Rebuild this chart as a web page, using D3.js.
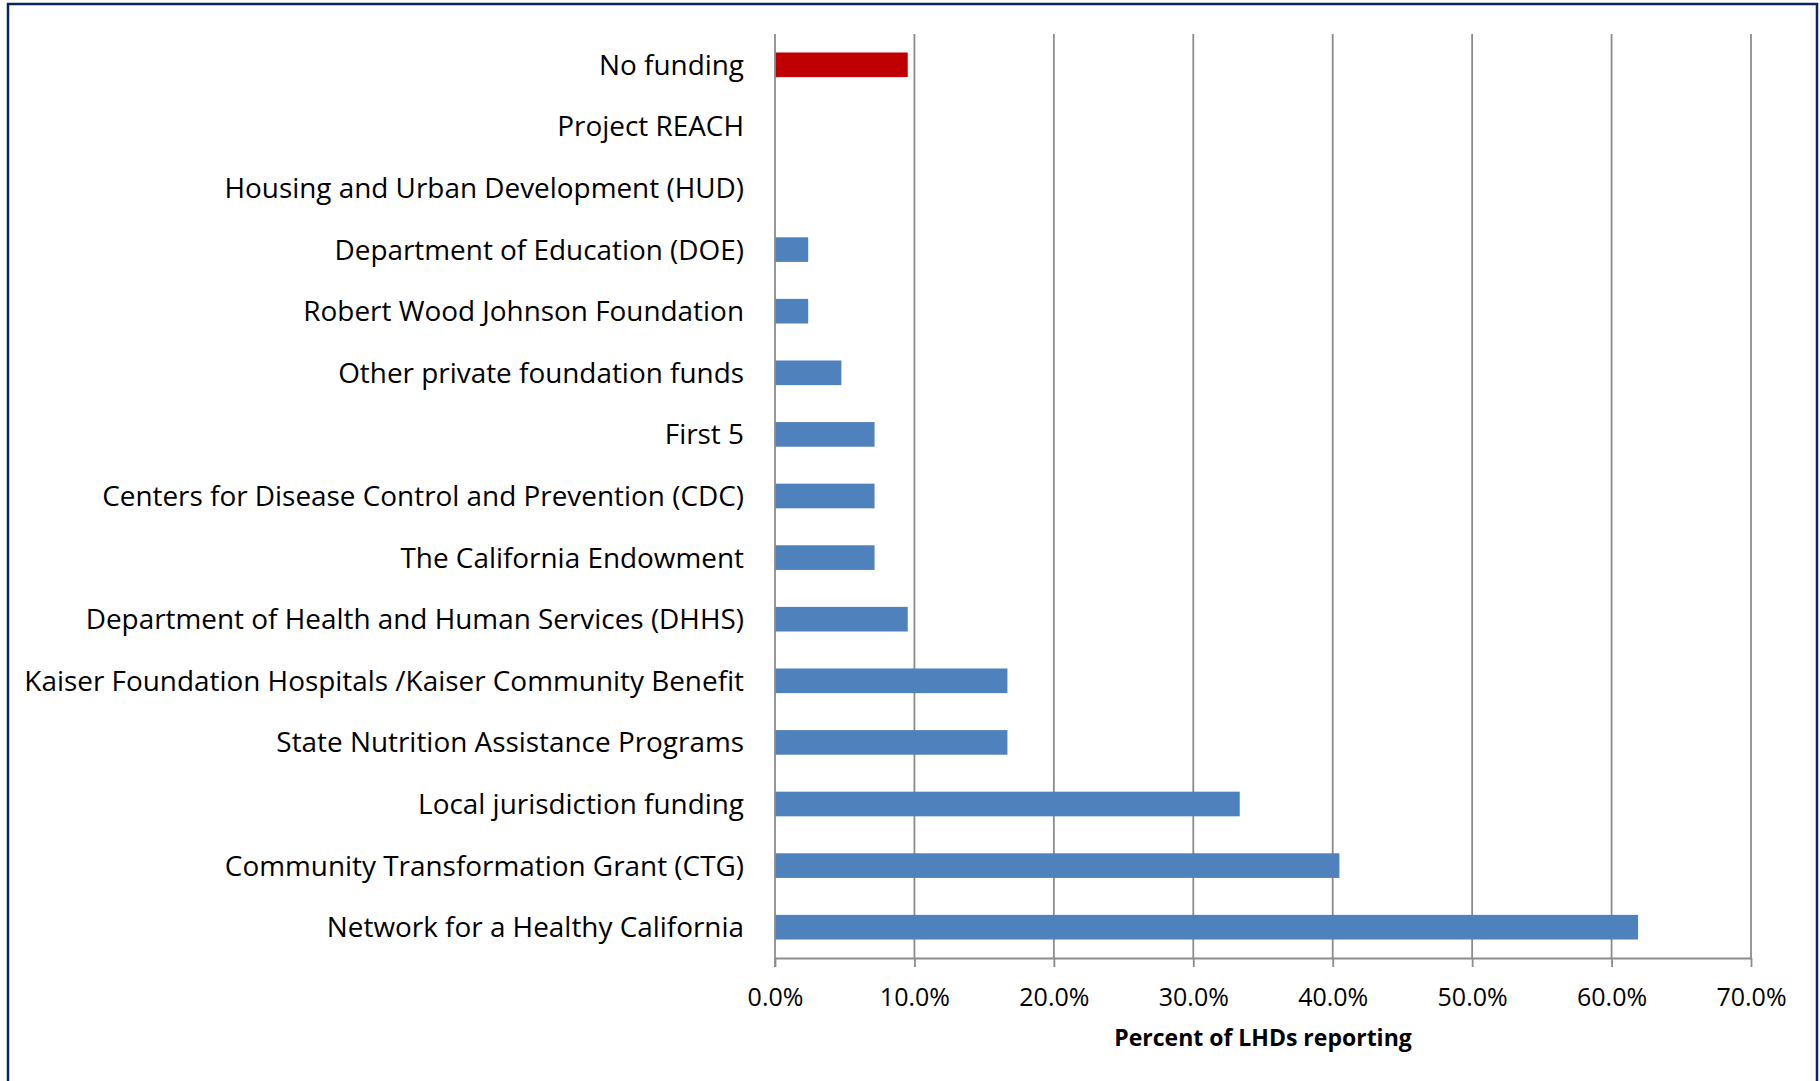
<!DOCTYPE html>
<html>
<head>
<meta charset="utf-8">
<script src="https://cdn.jsdelivr.net/npm/d3@7.9.0/dist/d3.min.js"></script>
<style>
  html, body { margin: 0; padding: 0; background: #fff; }
  svg { display: block; }
  text { font-family: "Open Sans", sans-serif; fill: #000; }
</style>
</head>
<body>
<div id="chart"></div>
<script>
// Funding sources, top to bottom as drawn
const categories = [
  "No funding",
  "Project REACH",
  "Housing and Urban Development (HUD)",
  "Department of Education (DOE)",
  "Robert Wood Johnson Foundation",
  "Other private foundation funds",
  "First 5",
  "Centers for Disease Control and Prevention (CDC)",
  "The California Endowment",
  "Department of Health and Human Services (DHHS)",
  "Kaiser Foundation Hospitals /Kaiser Community Benefit",
  "State Nutrition Assistance Programs",
  "Local jurisdiction funding",
  "Community Transformation Grant (CTG)",
  "Network for a Healthy California"
];
// share of LHDs reporting (fraction)
const values = [
  0.0952, 0, 0, 0.0238, 0.0238, 0.0476, 0.0714, 0.0714, 0.0714,
  0.0952, 0.1667, 0.1667, 0.3333, 0.4048, 0.619
];
const highlight = ["No funding"];
const xTicks = [0, 0.1, 0.2, 0.3, 0.4, 0.5, 0.6, 0.7];
const xTitle = "Percent of LHDs reporting";

const W = 1820, H = 1081;
const margin = { top: 34, right: 69, bottom: 123, left: 775 };
const width = W - margin.left - margin.right,
      height = H - margin.top - margin.bottom;

const svg = d3.select("#chart").append("svg")
  .attr("width", W)
  .attr("height", H);

// outer frame (bottom edge runs off the picture)
svg.append("path")
  .attr("d", `M8,${H + 5} V4 H1817 V${H + 5}`)
  .attr("fill", "none")
  .attr("stroke", "#0b2466")
  .attr("stroke-width", 2.5);

const g = svg.append("g")
  .attr("transform", `translate(${margin.left},${margin.top})`);

const x = d3.scaleLinear().domain([0, 0.7]).range([0, width]);
const y = d3.scaleBand()
  .domain(categories)
  .range([0, height])
  .paddingInner(0.6)
  .paddingOuter(0.3);

// vertical gridlines
g.append("g")
  .selectAll("line")
  .data(xTicks.slice(1))
  .join("line")
    .attr("x1", d => x(d)).attr("x2", d => x(d))
    .attr("y1", 0).attr("y2", height)
    .attr("stroke", "#8c8c8c")
    .attr("stroke-width", 1.8);

// bars
g.append("g")
  .selectAll("rect")
  .data(categories.map((c, i) => ({ c, v: values[i] })))
  .join("rect")
    .attr("x", x(0))
    .attr("y", d => y(d.c))
    .attr("width", d => x(d.v) - x(0))
    .attr("height", y.bandwidth())
    .attr("fill", d => highlight.includes(d.c) ? "#c00000" : "#4f81bd");

// x axis
const xAxis = g.append("g")
  .attr("transform", `translate(0,${height})`)
  .call(d3.axisBottom(x)
    .tickValues(xTicks)
    .tickFormat(d3.format(".1%"))
    .tickSizeInner(9)
    .tickSizeOuter(0));
xAxis.select(".domain").attr("stroke", "#8c8c8c").attr("stroke-width", 1.8);
xAxis.selectAll(".tick line").attr("stroke", "#8c8c8c").attr("stroke-width", 1.8);
xAxis.selectAll(".tick text")
  .attr("y", 39)
  .attr("dy", "0.36em")
  .style("font-size", "25px")
  .style("font-family", "'Open Sans', sans-serif");

// y axis line
g.append("line")
  .attr("x1", 0).attr("x2", 0)
  .attr("y1", 0).attr("y2", height + 9)
  .attr("stroke", "#8c8c8c")
  .attr("stroke-width", 1.8);

// category labels
const yAxis = g.append("g")
  .call(d3.axisLeft(y).tickSize(0).tickPadding(31));
yAxis.select(".domain").remove();
yAxis.selectAll(".tick text")
  .attr("dy", "0.36em")
  .style("font-size", "27.9px")
  .style("font-family", "'Open Sans', sans-serif");

// axis title
g.append("text")
  .attr("x", width / 2)
  .attr("y", height + 80)
  .attr("dy", "0.36em")
  .attr("text-anchor", "middle")
  .style("font-size", "23px")
  .style("font-weight", "bold")
  .text(xTitle);
</script>
</body>
</html>
